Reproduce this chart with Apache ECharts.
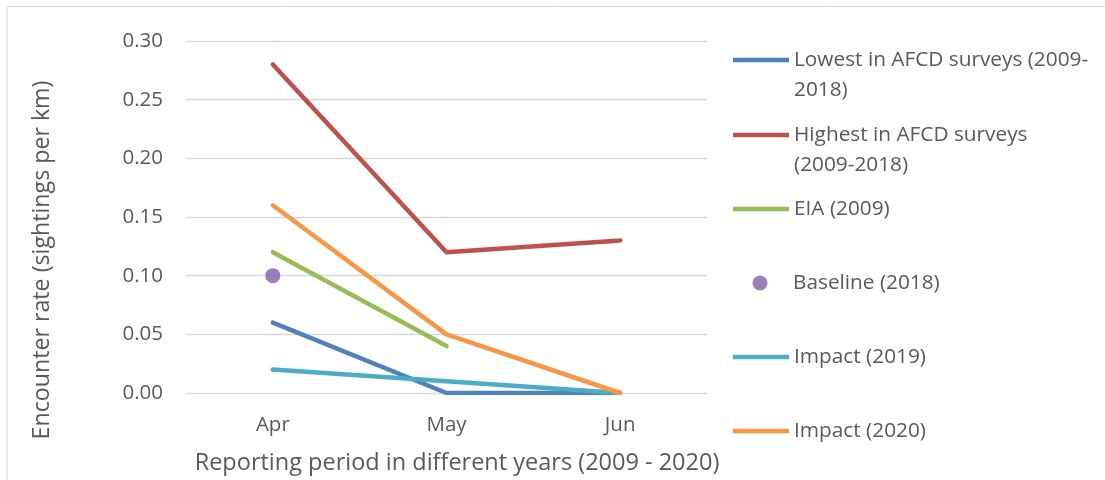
<!DOCTYPE html>
<html><head><meta charset="utf-8">
<script src="https://cdn.jsdelivr.net/npm/echarts@6/dist/echarts.min.js"></script>
<style>html,body{margin:0;padding:0;background:#fff}#c{width:1105px;height:480px}</style>
</head><body><div id="c"></div>
<script>
const categories = ['Apr', 'May', 'Jun'];
const lowest = [0.06, 0.00, 0.00];
const highest = [0.28, 0.12, 0.13];
const eia2009 = [0.12, 0.04, null];
const baseline2018 = [0.10, null, null];
const impact2019 = [0.02, 0.01, 0.00];
const impact2020 = [0.16, 0.05, 0.00];
const yTicks = ['0.00','0.05','0.10','0.15','0.20','0.25','0.30'];

const names = ['Lowest in AFCD surveys (2009-\n2018)', 'Highest in AFCD surveys\n(2009-2018)', 'EIA (2009)', 'Baseline (2018)', 'Impact (2019)', 'Impact (2020)'];
const colors = ['#4F81BD', '#C0504D', '#9BBB59', '#8064A2', '#4BACC6', '#F79646'];
const FONT = 'Open Sans';
const TXT = '#595959';

const chart = echarts.init(document.getElementById('c'));
const legendTops = [60, 135, 209, 283, 357, 431];
const legends = names.map((n, i) => {
  const twoLine = n.indexOf('\n') >= 0;
  const isDot = i === 3;
  return {
    data: [{name: n, icon: isDot ? 'circle' : 'rect'}],
    left: isDot ? 747.5 : 728,
    top: legendTops[i] - (twoLine ? 50 : 20),
    itemWidth: isDot ? 15 : 56,
    itemHeight: isDot ? 15 : 4.5,
    itemGap: 0,
    selectedMode: false,
    formatter: twoLine ? (s => '\n' + s) : (s => s),
    textStyle: {
      fontFamily: FONT, fontSize: 20.8, color: TXT, lineHeight: 30,
      padding: [0, 0, 0, isDot ? 20.5 : 0]
    },
    itemStyle: {color: colors[i]},
    lineStyle: {width: 0}
  };
});
const lineSeries = (name, data, color) => ({
  name, type: 'line', data, symbol: 'none', smooth: false,
  lineStyle: {width: 4.5, color, cap: 'round'}, itemStyle: {color},
  connectNulls: false
});
chart.setOption({
  animation: false,
  textStyle: {fontFamily: FONT},
  grid: {left: 186, right: 398, top: 41, bottom: 84},
  legend: legends,
  graphic: [{type: 'rect', shape: {x: 7, y: 6.5, width: 1200, height: 480}, style: {fill: 'none', stroke: '#d9d9d9', lineWidth: 1}, silent: true}],
  xAxis: {
    type: 'category', data: categories, boundaryGap: true,
    axisLine: {show: false}, axisTick: {show: false},
    axisLabel: {fontSize: 20.5, color: TXT, margin: 22, fontFamily: FONT},
    name: 'Reporting period in different years (2009 - 2020)', nameLocation: 'middle', nameGap: 58,
    nameTextStyle: {fontSize: 23.5, color: TXT, fontFamily: FONT, padding: [0, 0, 0, 21]}
  },
  yAxis: {
    type: 'value', min: 0, max: 0.3, interval: 0.05,
    axisLine: {show: false}, axisTick: {show: false},
    axisLabel: {fontSize: 20.5, color: TXT, margin: 23, fontFamily: FONT, formatter: v => yTicks[Math.round(v / 0.05)]},
    splitLine: {lineStyle: {color: '#d9d9d9', width: 1.3}},
    name: 'Encounter rate (sightings per km)', nameLocation: 'middle', nameGap: 132, nameRotate: 90,
    nameTextStyle: {fontSize: 23.2, color: TXT, fontFamily: FONT, padding: [0, 86, 0, 0]}
  },
  series: [
    lineSeries(names[0], lowest, colors[0]),
    lineSeries(names[1], highest, colors[1]),
    lineSeries(names[2], eia2009, colors[2]),
    {name: names[3], type: 'scatter', data: baseline2018, symbol: 'circle', symbolSize: 15, itemStyle: {color: '#7F5FA8'}},
    lineSeries(names[4], impact2019, colors[4]),
    lineSeries(names[5], impact2020, colors[5])
  ]
});
</script></body></html>
